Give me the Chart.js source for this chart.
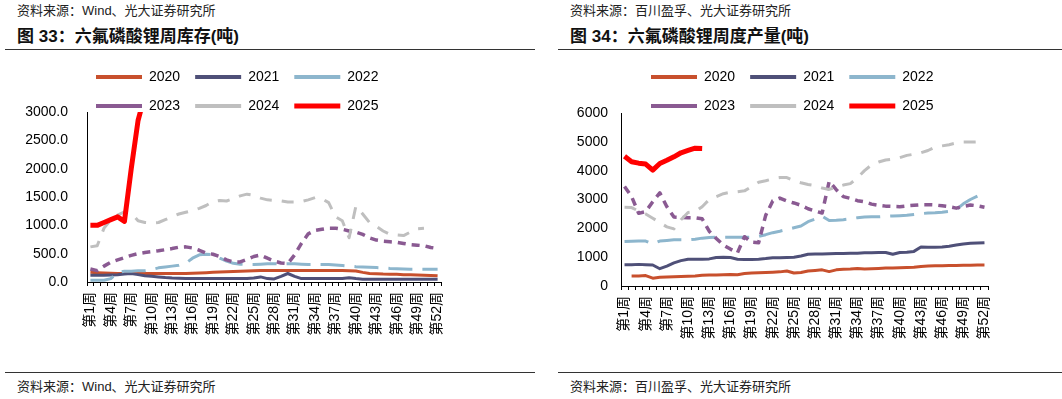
<!DOCTYPE html>
<html><head><meta charset="utf-8">
<script src="https://cdn.jsdelivr.net/npm/chart.js@4.4.1/dist/chart.umd.min.js"></script>
<style>
html,body{margin:0;padding:0;background:#fff;}
body{width:1062px;height:399px;overflow:hidden;position:relative;font-family:"Liberation Sans","Noto Sans CJK SC",sans-serif;}
.src{position:absolute;font-size:13px;color:#222;line-height:16px;white-space:nowrap}
.ttl{position:absolute;font-size:17px;font-weight:bold;color:#111;line-height:20px;white-space:nowrap}
.rule{position:absolute;height:1px;background:#333}
.box{position:absolute}
</style></head>
<body>
<div class="src" style="left:17px;top:3px">资料来源：Wind、光大证券研究所</div>
<div class="ttl" style="left:17px;top:27px">图 33：六氟磷酸锂周库存(吨)</div>
<div class="rule" style="left:5px;top:49px;width:530px"></div>
<div class="src" style="left:570px;top:3px">资料来源：百川盈孚、光大证券研究所</div>
<div class="ttl" style="left:570px;top:27px">图 34：六氟磷酸锂周度产量(吨)</div>
<div class="rule" style="left:558px;top:49px;width:504px"></div>

<div class="box" style="left:0px;top:55px;width:530px;height:315px"><canvas id="c1" width="530" height="315"></canvas></div>
<div class="box" style="left:545px;top:55px;width:517px;height:315px"><canvas id="c2" width="517" height="315"></canvas></div>

<div class="rule" style="left:5px;top:372px;width:530px"></div>
<div class="rule" style="left:558px;top:372px;width:504px"></div>
<div class="src" style="left:17px;top:379px">资料来源：Wind、光大证券研究所</div>
<div class="src" style="left:570px;top:379px">资料来源：百川盈孚、光大证券研究所</div>

<script>
// ---------- categories / tick labels ----------
const weeks = ['第1周','第2周','第3周','第4周','第5周','第6周','第7周','第8周','第9周','第10周',
'第11周','第12周','第13周','第14周','第15周','第16周','第17周','第18周','第19周','第20周',
'第21周','第22周','第23周','第24周','第25周','第26周','第27周','第28周','第29周','第30周',
'第31周','第32周','第33周','第34周','第35周','第36周','第37周','第38周','第39周','第40周',
'第41周','第42周','第43周','第44周','第45周','第46周','第47周','第48周','第49周','第50周',
'第51周','第52周'];
const seriesNames = ['2020','2021','2022','2023','2024','2025'];
const yTicksInv = [0, 500, 1000, 1500, 2000, 2500, 3000];
const yTicksProd = [0, 1000, 2000, 3000, 4000, 5000, 6000];

// ---------- Chart 33: weekly inventory (t) ----------
const inv2020 = [170,165,160,155,150,150,150,150,150,150,150,150,150,150,150,155,160,165,170,175,
180,185,190,195,200,205,205,205,205,205,205,205,205,205,205,205,205,205,200,195,
170,150,145,140,138,135,130,128,125,120,115,110];
const inv2021 = [120,120,120,125,130,140,148,130,110,100,90,78,70,65,60,60,60,60,60,60,
60,60,60,60,70,90,60,55,100,150,100,60,60,60,60,60,60,60,75,60,
50,50,50,50,50,50,50,50,50,50,50,50];
const inv2022 = [30,30,30,60,170,190,190,200,200,220,250,265,280,295,330,420,480,490,480,420,
370,330,315,310,310,315,320,320,320,320,320,315,310,310,310,310,300,290,280,270,
265,260,255,250,240,235,230,225,225,225,225,225];
const inv2023 = [230,200,280,350,390,430,470,500,520,535,550,570,590,615,620,600,560,510,490,450,
390,355,355,400,450,475,420,370,335,325,480,680,850,910,930,950,950,930,900,880,
840,780,740,720,710,700,680,660,650,640,610,590];
const inv2024 = [620,640,950,1100,1180,1240,1220,1080,1050,1040,1050,1100,1150,1200,1230,1260,1300,1350,1420,1440,
1430,1470,1520,1550,1530,1480,1450,1440,1430,1410,1410,1420,1450,1490,1470,1400,1150,1080,780,1340,
1200,1050,980,900,840,830,820,880,940,950,null,null];
const inv2025 = [1000,1000,1050,1100,1150,1070,2000,2850,3300];

// ---------- Chart 34: weekly output (t) ----------
const out2020 = [null,350,350,360,270,300,310,320,330,340,350,370,380,380,390,400,390,430,450,460,
470,480,490,520,450,470,520,540,560,500,560,580,590,610,590,600,610,620,620,630,
640,650,680,690,700,700,710,710,720,720,730,730];
const out2021 = [740,740,750,740,730,600,690,800,880,930,930,930,940,990,1000,990,930,920,920,930,
950,980,980,990,1000,1040,1100,1110,1110,1120,1130,1130,1140,1140,1150,1150,1160,1160,1100,1160,
1170,1200,1350,1340,1340,1350,1380,1420,1460,1480,1490,1500];
const out2022 = [1540,1550,1560,1560,1460,1560,1580,1600,1600,1600,1620,1660,1680,1690,1690,1690,1690,1690,1690,1720,
1780,1850,1900,1960,2020,2080,2230,2320,2420,2270,2280,2300,2330,2370,2390,2400,2400,2420,2430,2440,
2450,2480,2510,2530,2540,2560,2590,2650,2850,3000,3120,null];
const out2023 = [3450,3100,2520,2580,2920,3230,2750,2390,2380,2370,2370,2330,1900,1650,1420,1280,1150,1710,1520,1500,
2450,2950,3050,2950,2880,2800,2680,2600,2530,3630,3340,3100,3040,2960,2920,2840,2800,2770,2760,2750,
2780,2800,2820,2820,2810,2780,2750,2700,2760,2810,2780,2730];
const out2024 = [2730,2720,2600,2500,2350,2200,2050,1980,2300,2550,2580,2750,3000,3100,3200,3250,3270,3300,3450,3600,
3650,3720,3760,3760,3650,3580,3520,3480,3400,3350,3430,3500,3550,3750,4000,4200,4300,4370,4400,4450,
4530,4570,4620,4700,4820,4860,4900,4960,4990,4990,5000,5020];
const out2025 = [4500,4310,4260,4230,4020,4250,4360,4480,4620,4700,4780,4770];

// ---------- styles ----------
const styles = [
  {color:'#C8502D', width:3, dash:[]},
  {color:'#4F5078', width:3, dash:[]},
  {color:'#8DB6CD', width:3, dash:[24,10]},
  {color:'#8A5A92', width:3.5, dash:[8,6]},
  {color:'#BFBFBF', width:3, dash:[12,10]},
  {color:'#FF0000', width:5, dash:[]}
];
const legendWidths = [4,4,4,4,4,5];

Chart.defaults.font.family = '"Liberation Sans","Noto Sans CJK SC",sans-serif';
Chart.defaults.color = '#000';

const legendFix = {
  id: 'legendFix',
  afterInit(chart, args, o) {
    const lg = chart.legend;
    const upd = lg.update;
    lg.update = function(maxWidth, maxHeight, margins) {
      upd.call(this, o.rowWidth, maxHeight, margins);
      this.height = o.height;
    };
  },
  afterLayout(chart, args, o) {
    const lg = chart.legend;
    lg.left = o.left; lg.right = o.left + o.rowWidth; lg.width = o.rowWidth;
  }
};

function makeChart(id, seriesList, yMax, yStep, yTicks, fmt, geo) {
  const datasets = seriesList.map((d, i) => ({
    label: seriesNames[i],
    data: d,
    borderColor: styles[i].color,
    backgroundColor: styles[i].color,
    borderWidth: styles[i].width,
    borderDash: styles[i].dash,
    borderJoinStyle: 'round',
    pointRadius: 0,
    pointHoverRadius: 0,
    tension: 0,
    fill: false,
    spanGaps: false,
    order: 6 - i
  }));
  return new Chart(document.getElementById(id), {
    type: 'line',
    data: { labels: weeks, datasets },
    plugins: [legendFix],
    options: {
      responsive: false,
      animation: false,
      events: [],
      layout: { padding: { left: 0, right: geo.padRight, top: 0, bottom: 0 } },
      plugins: {
        tooltip: { enabled: false },
        legendFix: { rowWidth: 345, height: geo.legendH, left: geo.legendL },
        legend: {
          position: 'top',
          align: 'start',
          labels: {
            usePointStyle: true,
            pointStyle: 'line',
            pointStyleWidth: 46,
            padding: 15,
            color: '#000',
            font: { size: 14 },
            sort: (a, b) => a.datasetIndex - b.datasetIndex,
            generateLabels(chart) {
              const items = Chart.defaults.plugins.legend.labels.generateLabels(chart);
              items.forEach(it => { it.lineWidth = legendWidths[it.datasetIndex]; it.pointStyle = 'line'; });
              return items;
            }
          }
        }
      },
      scales: {
        x: {
          offset: true,
          afterFit(s) { s.height = geo.xH; },
          grid: { display: true, offset: true, drawOnChartArea: false, drawTicks: true, tickLength: 4, color: '#000', lineWidth: 1 },
          border: { display: true, color: '#000', width: 1 },
          ticks: {
            autoSkip: false, maxRotation: 90, minRotation: 90, padding: 6,
            font: { size: 14 }, color: '#000',
            callback: function(v, i) { return i % 3 === 0 ? this.getLabelForValue(v) : ''; }
          }
        },
        y: {
          min: 0, max: yMax,
          afterFit(s) { s.width = geo.yW; },
          afterBuildTicks(s) { s.ticks = yTicks.map(v => ({ value: v })); },
          grid: { display: false, drawTicks: false },
          border: { display: true, color: '#000', width: 1 },
          ticks: { stepSize: yStep, padding: geo.yPad, font: { size: 14 }, color: '#000', callback: fmt }
        }
      }
    }
  });
}

makeChart('c1', [inv2020, inv2021, inv2022, inv2023, inv2024, inv2025], 3000, 500, yTicksInv,
  v => Number(v).toFixed(1),
  { padRight: 89, yW: 87, xH: 88, legendH: 57, legendL: 81, yPad: 19 });
makeChart('c2', [out2020, out2021, out2022, out2023, out2024, out2025], 6000, 1000, yTicksProd,
  v => String(v),
  { padRight: 74, yW: 76, xH: 84, legendH: 58, legendL: 91, yPad: 13 });
</script>
</body></html>
